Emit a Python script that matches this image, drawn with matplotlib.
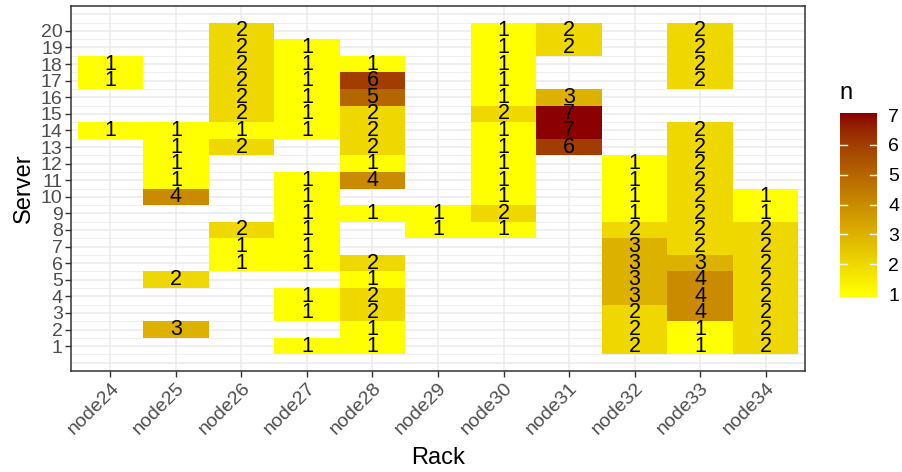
import numpy as np
import matplotlib
matplotlib.use("Agg")
import matplotlib.pyplot as plt
from matplotlib.colors import ListedColormap, Normalize

plt.rcParams['font.family'] = ['Liberation Sans', 'DejaVu Sans']

# ---- data: job count n per (rack, server); index 0 = server 1, 0 = no tile ----
racks = ["node24", "node25", "node26", "node27", "node28", "node29",
         "node30", "node31", "node32", "node33", "node34"]
servers = list(range(1, 21))
node24 = [0, 0, 0, 0, 0, 0, 0, 0, 0, 0, 0, 0, 0, 1, 0, 0, 1, 1, 0, 0]
node25 = [0, 3, 0, 0, 2, 0, 0, 0, 0, 4, 1, 1, 1, 1, 0, 0, 0, 0, 0, 0]
node26 = [0, 0, 0, 0, 0, 1, 1, 2, 0, 0, 0, 0, 2, 1, 2, 2, 2, 2, 2, 2]
node27 = [1, 0, 1, 1, 0, 1, 1, 1, 1, 1, 1, 0, 0, 1, 1, 1, 1, 1, 1, 0]
node28 = [1, 1, 2, 2, 1, 2, 0, 0, 1, 0, 4, 1, 2, 2, 2, 5, 6, 1, 0, 0]
node29 = [0, 0, 0, 0, 0, 0, 0, 1, 1, 0, 0, 0, 0, 0, 0, 0, 0, 0, 0, 0]
node30 = [0, 0, 0, 0, 0, 0, 0, 1, 2, 1, 1, 1, 1, 1, 2, 1, 1, 1, 1, 1]
node31 = [0, 0, 0, 0, 0, 0, 0, 0, 0, 0, 0, 0, 6, 7, 7, 3, 0, 0, 2, 2]
node32 = [2, 2, 2, 3, 3, 3, 3, 2, 1, 1, 1, 1, 0, 0, 0, 0, 0, 0, 0, 0]
node33 = [1, 1, 4, 4, 4, 3, 2, 2, 2, 2, 2, 2, 2, 2, 0, 0, 2, 2, 2, 2]
node34 = [2, 2, 2, 2, 2, 2, 2, 2, 1, 1, 0, 0, 0, 0, 0, 0, 0, 0, 0, 0]
counts = np.array([node24, node25, node26, node27, node28, node29,
                   node30, node31, node32, node33, node34]).T   # (server, rack)


# ---- yellow -> darkred gradient interpolated in Lab (like ggplot) ----
WHITE = np.array([0.95047, 1.0, 1.08883])
M = np.array([[0.4124, 0.3576, 0.1805], [0.2126, 0.7152, 0.0722],
              [0.0193, 0.1192, 0.9505]])


def to_lab(rgb):
    c = np.asarray(rgb, float)
    lin = np.where(c <= 0.04045, c / 12.92, ((c + 0.055) / 1.055) ** 2.4)
    xyz = M @ lin / WHITE
    d = 6 / 29
    f = np.where(xyz > d ** 3, np.cbrt(xyz), xyz / (3 * d * d) + 4 / 29)
    return np.array([116 * f[1] - 16, 500 * (f[0] - f[1]), 200 * (f[1] - f[2])])


def from_lab(lab):
    L, a, b = lab
    fy = (L + 16) / 116
    f = np.array([fy + a / 500, fy, fy - b / 200])
    d = 6 / 29
    xyz = np.where(f > d, f ** 3, 3 * d * d * (f - 4 / 29)) * WHITE
    lin = np.clip(np.linalg.solve(M, xyz), 0, 1)
    c = np.where(lin <= 0.0031308, 12.92 * lin, 1.055 * lin ** (1 / 2.4) - 0.055)
    return np.clip(c, 0, 1)


lo, hi = to_lab([1, 1, 0]), to_lab([139 / 255, 0, 0])
cmap = ListedColormap([from_lab(lo + t * (hi - lo)) for t in np.linspace(0, 1, 256)])
norm = Normalize(1, 7)

# ---- figure ----
fig = plt.figure(figsize=(9.02, 4.72), dpi=100)
ax = fig.add_axes([71 / 902, 101 / 472, 734 / 902, 365 / 472])

grid = "#ebebeb"
for v in np.arange(0, 21.01, 0.5):
    ax.axhline(v, color=grid, lw=0.55 if v % 1 else 1.1, zorder=0)
for i in range(len(racks)):
    ax.axvline(i, color=grid, lw=1.1, zorder=0)

data = np.ma.masked_equal(counts, 0)
ax.pcolormesh(np.arange(len(racks) + 1) - 0.5, np.arange(21) + 0.5, data,
              cmap=cmap, norm=norm, zorder=1)
for r in range(len(racks)):
    for s in range(len(servers)):
        if counts[s, r]:
            ax.text(r, servers[s], str(counts[s, r]), ha="center", va="center",
                    fontsize=15.5, color="black", zorder=2)

ax.set_xlim(-0.6, len(racks) - 0.4)
ax.set_ylim(-0.5, 21.5)
ax.set_xticks(range(len(racks)))
ax.set_xticklabels(racks, rotation=45, ha="right", rotation_mode="anchor")
ax.set_yticks(servers)
ax.set_yticklabels([str(s) for s in servers])
ax.tick_params(length=4, width=1, color="#333333", labelcolor="#4d4d4d",
               labelsize=14, pad=2)
for sp in ax.spines.values():
    sp.set_color("#333333"); sp.set_linewidth(1.1)
ax.set_xlabel("Rack", fontsize=17, labelpad=7)
ax.set_ylabel("Server", fontsize=17, labelpad=4)

# ---- colourbar legend ----
cax = fig.add_axes([840 / 902, (472 - 297) / 472, 37 / 902, 184 / 472])
grad = np.linspace(0.9, 7.07, 300)[:, None]
cax.imshow(grad, cmap=cmap, norm=norm, aspect="auto", origin="lower",
           extent=[0, 1, 0.9, 7.07])
cax.set_xlim(0, 1); cax.set_ylim(0.9, 7.07)
for v in range(2, 7):
    cax.plot([0, 0.2], [v, v], color="white", lw=1)
    cax.plot([0.8, 1], [v, v], color="white", lw=1)
for sp in cax.spines.values():
    sp.set_visible(False)
cax.set_xticks([])
cax.yaxis.tick_right()
cax.set_yticks(range(1, 8))
cax.tick_params(axis="y", length=0, labelsize=14, labelcolor="black", pad=8)
fig.text(839 / 902, 1 - 93 / 472, "n", fontsize=17, ha="left", va="center")

fig.savefig("out.png", dpi=100)
